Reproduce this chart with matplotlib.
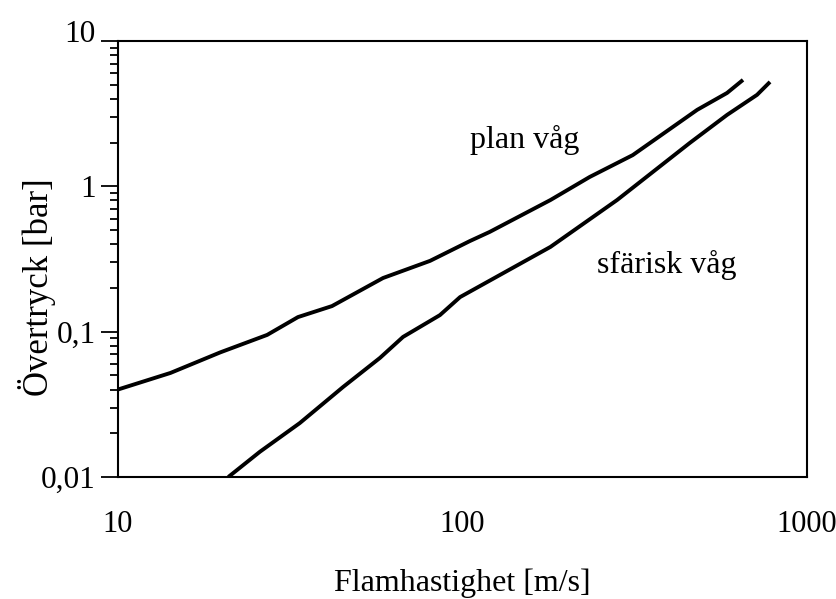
import matplotlib
matplotlib.use('Agg')
import matplotlib.pyplot as plt
import matplotlib.transforms as mtransforms
from matplotlib.ticker import FixedLocator, LogLocator, NullFormatter, NullLocator

plt.rcParams['font.family'] = ['Liberation Serif', 'DejaVu Serif']

# Data
plan_v = [10, 14.2, 19.8, 27.1, 33.3, 41.8, 58.8, 80.5, 105, 120, 180, 234, 312, 480, 586, 652]
plan_p = [0.040, 0.052, 0.072, 0.095, 0.126, 0.150, 0.234, 0.307, 0.42, 0.486, 0.805, 1.16, 1.64, 3.36, 4.39, 5.4]

sfar_v = [20.9, 25.8, 33.7, 45, 57.6, 67.2, 86, 98.4, 180, 281, 457, 586, 716, 781]
sfar_p = [0.010, 0.0149, 0.0235, 0.0416, 0.066, 0.092, 0.130, 0.173, 0.383, 0.805, 1.99, 3.10, 4.26, 5.23]

x_ticks = [10, 100, 1000]
x_labels = ['10', '100', '1000']
y_ticks = [0.01, 0.1, 1, 10]
y_labels = ['0,01', '0,1', '1', '10']

fig = plt.figure(figsize=(8.36, 5.99), dpi=100)
ax = fig.add_axes([118/836, 1 - 477/599, (807-118)/836, (477-41)/599])

ax.plot(plan_v, plan_p, color='black', lw=2.8, solid_capstyle='butt')
ax.plot(sfar_v, sfar_p, color='black', lw=2.8, solid_capstyle='butt')

ax.set_xscale('log')
ax.set_yscale('log')
ax.set_xlim(10, 1000)
ax.set_ylim(0.01, 10)

ax.xaxis.set_major_locator(FixedLocator(x_ticks))
ax.set_xticklabels(x_labels)
ax.xaxis.set_minor_locator(NullLocator())
ax.tick_params(axis='x', which='both', length=0, pad=24, labelsize=22)

ax.yaxis.set_major_locator(FixedLocator(y_ticks))
ax.set_yticklabels(y_labels)
ax.yaxis.set_minor_locator(LogLocator(base=10, subs=range(2, 10)))
ax.yaxis.set_minor_formatter(NullFormatter())
ax.tick_params(axis='y', which='major', direction='out', length=12.5, width=1.3, pad=3.5, labelsize=22.5)
ax.tick_params(axis='y', which='minor', direction='out', length=6, width=1.3)

# top label sits a little above its tick
top_lbl = ax.get_yticklabels()[-1]
top_lbl.set_transform(top_lbl.get_transform() + mtransforms.ScaledTranslation(0, 0.1, fig.dpi_scale_trans))

for s in ax.spines.values():
    s.set_linewidth(1.5)

ax.text(105, 1.84, 'plan våg', fontsize=23)
ax.text(245, 0.254, 'sfärisk våg', fontsize=23)

fig.text(462/836, 1 - 591/599, 'Flamhastighet [m/s]', fontsize=23, ha='center', va='baseline')
fig.text(37/836, 1 - 287/599, 'Övertryck [bar]', fontsize=25, ha='center', va='center', rotation=90)

fig.savefig('out.png', dpi=100)
